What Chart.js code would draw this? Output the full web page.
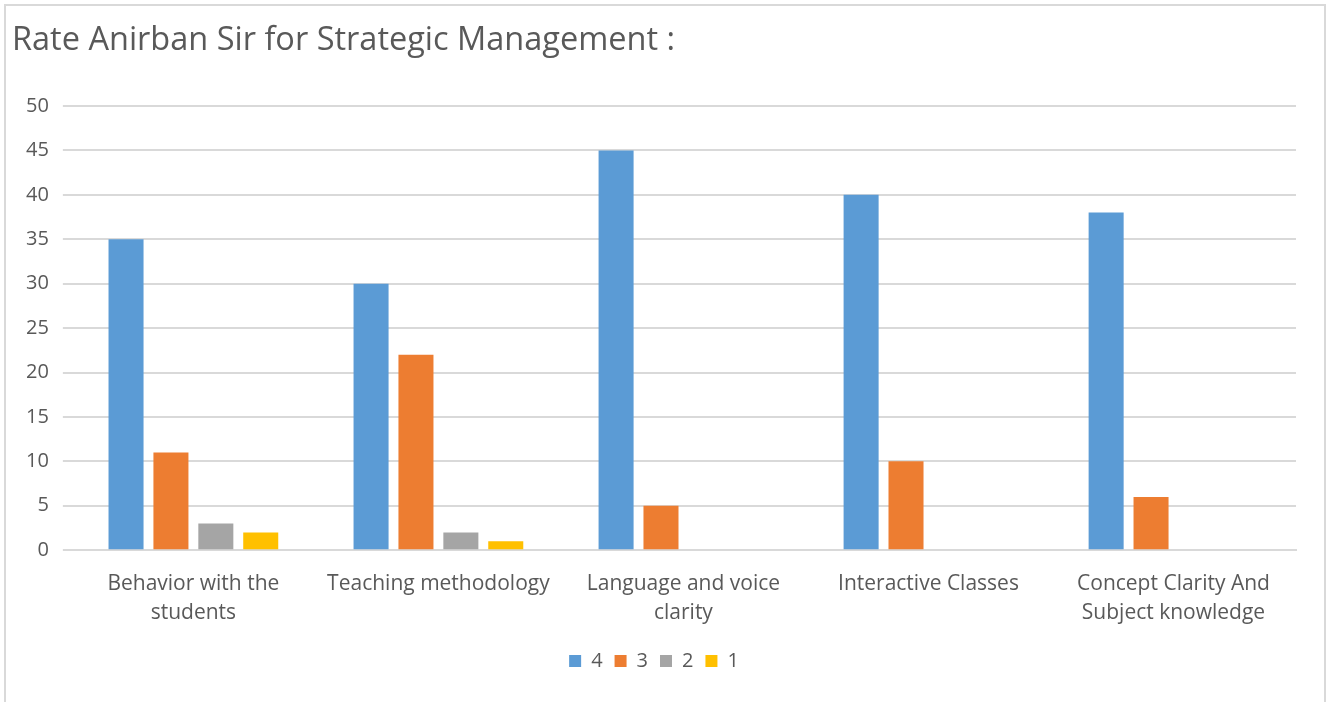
<!DOCTYPE html>
<html>
<head>
<meta charset="utf-8">
<script src="https://cdn.jsdelivr.net/npm/chart.js@4"></script>
<style>
  html, body { margin: 0; padding: 0; background: #fff; }
  #wrap { position: relative; width: 1330px; height: 702px; overflow: hidden; }
  #frame { position: absolute; left: 4px; top: 4px; width: 1318px; height: 760px; border: 2px solid #d9d9d9; }
  #chart-box { position: absolute; left: 0; top: 0; width: 1330px; height: 702px; }
</style>
</head>
<body>
<div id="wrap">
  <div id="frame"></div>
  <div id="chart-box"><canvas id="rating-chart"></canvas></div>
</div>
<script>
// chart data
var categories = [
    ["Behavior with the", "students"],
    "Teaching methodology",
    ["Language and voice", "clarity"],
    "Interactive Classes",
    ["Concept Clarity And", "Subject knowledge"]
]
var seriesNames = ["4", "3", "2", "1"]
var rating4 = [35, 30, 45, 40, 38]
var rating3 = [11, 22, 5, 10, 6]
var rating2 = [3, 2, 0, 0, 0]
var rating1 = [2, 1, 0, 0, 0]
var yTicks = [0, 5, 10, 15, 20, 25, 30, 35, 40, 45, 50]

var colors = ["#5B9BD5", "#ED7D31", "#A5A5A5", "#FFC000"]
var textColor = "#595959"
var fontFamily = "'Open Sans', sans-serif"

function createChart() {
    var allSeries = [rating4, rating3, rating2, rating1]
    var datasets = allSeries.map(function (values, i) {
        return {
            label: seriesNames[i],
            data: values,
            backgroundColor: colors[i],
            borderWidth: 0,
            categoryPercentage: 0.733,
            barPercentage: 0.78
        }
    })

    new Chart("rating-chart", {
        type: "bar",
        data: { labels: categories, datasets: datasets },
        options: {
            responsive: true,
            maintainAspectRatio: false,
            animation: false,
            layout: { padding: { left: 12, right: 34, top: 21, bottom: 21 } },
            plugins: {
                title: {
                    display: true,
                    text: "Rate Anirban Sir for Strategic Management :",
                    align: "start",
                    color: textColor,
                    font: { family: fontFamily, size: 32.5, weight: "normal" },
                    padding: { top: 0, bottom: 46 }
                },
                legend: {
                    position: "bottom",
                    labels: {
                        color: textColor,
                        font: { family: fontFamily, size: 20 },
                        boxWidth: 12,
                        boxHeight: 12,
                        padding: 12
                    }
                },
                tooltip: { enabled: false }
            },
            scales: {
                x: {
                    grid: { display: false },
                    border: { color: "#d9d9d9", width: 2 },
                    ticks: {
                        color: textColor,
                        font: { family: fontFamily, size: 21, lineHeight: 1.4 },
                        maxRotation: 0,
                        padding: 11
                    }
                },
                y: {
                    min: 0,
                    max: 50,
                    afterBuildTicks: function (axis) {
                        axis.ticks = yTicks.map(function (v) { return { value: v } })
                    },
                    grid: { color: "#d9d9d9", lineWidth: 2, tickLength: 8 },
                    border: { display: false },
                    ticks: {
                        color: textColor,
                        font: { family: fontFamily, size: 20 },
                        padding: 14
                    }
                }
            }
        }
    })
}

createChart()
</script>
</body>
</html>
